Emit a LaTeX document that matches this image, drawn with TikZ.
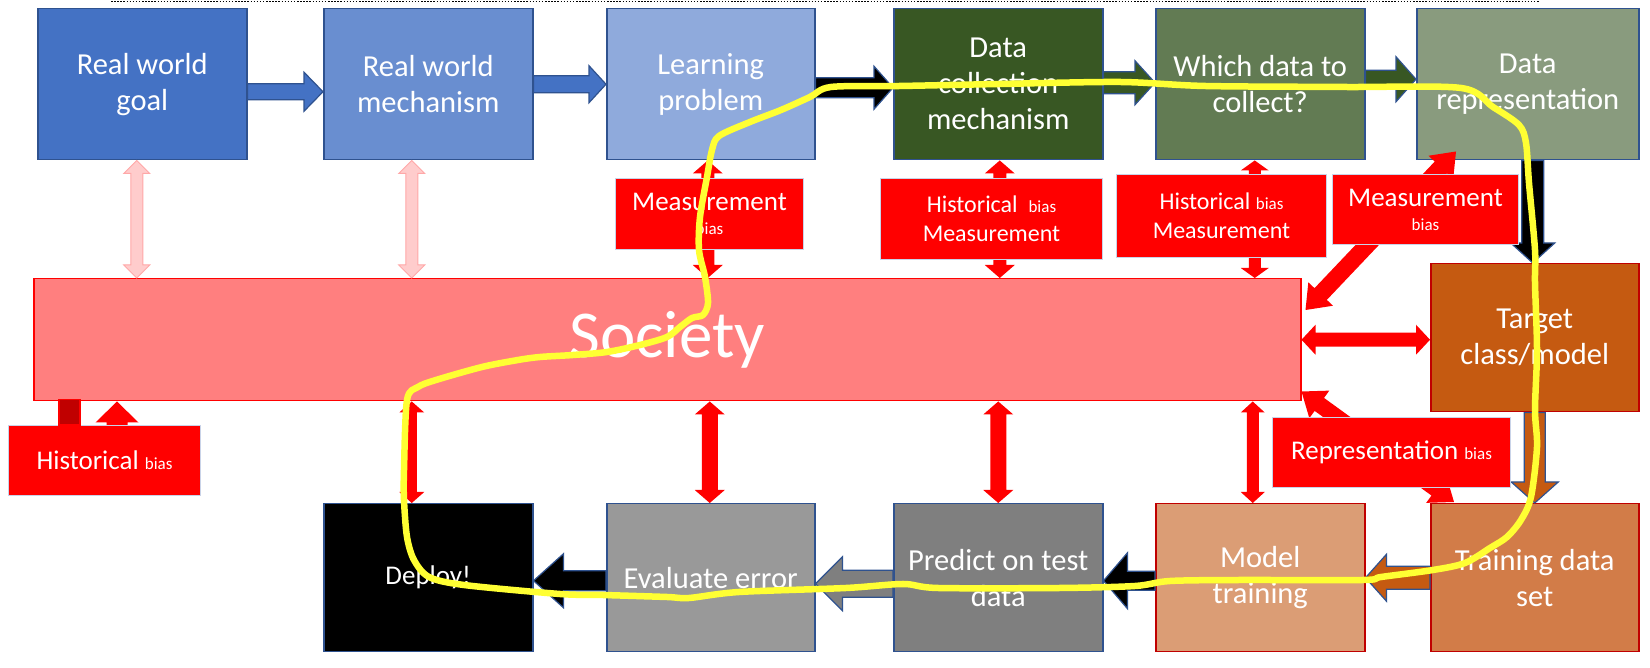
\documentclass[tikz,border=0pt]{standalone}
\usepackage{fontspec}
\setmainfont{Carlito}
\usetikzlibrary{calc}
\definecolor{bblue}{HTML}{2F528F}
\definecolor{cA}{HTML}{4472C4}
\definecolor{cB}{HTML}{698ED0}
\definecolor{cC}{HTML}{8FAADC}
\definecolor{gA}{HTML}{385723}
\definecolor{gB}{HTML}{627B53}
\definecolor{gC}{HTML}{899B7E}
\definecolor{oA}{HTML}{C55A11}
\definecolor{oB}{HTML}{D27C48}
\definecolor{oC}{HTML}{DB9D75}
\definecolor{grA}{HTML}{7F7F7F}
\definecolor{grB}{HTML}{999999}
\definecolor{dred}{HTML}{C00000}
\definecolor{socfill}{HTML}{FF7F7F}
\definecolor{pinkf}{HTML}{FFCCCC}
\definecolor{pinkd}{HTML}{FFA8A8}
\definecolor{biasline}{HTML}{C9D3E8}
\definecolor{pen}{HTML}{FFFF33}
\newcommand\sbias{\fontsize{17}{20}\selectfont bias}
\tikzset{
  bsw/.store in=\bsw, bhw/.store in=\bhw, bhl/.store in=\bhl,
  sarrow/.style={to path={let \p1=(\tikztostart),\p2=(\tikztotarget),
    \n1={atan2(\y2-\y1,\x2-\x1)},\n2={veclen(\x2-\x1,\y2-\y1)-\bhl},
    \n3={\n1+90},\n4={\n1-90} in
    ($(\p1)+(\n3:\bsw)$) -- ($(\p1)+(\n1:\n2)+(\n3:\bsw)$) -- ($(\p1)+(\n1:\n2)+(\n3:\bhw)$)
    -- (\p2) -- ($(\p1)+(\n1:\n2)+(\n4:\bhw)$) -- ($(\p1)+(\n1:\n2)+(\n4:\bsw)$)
    -- ($(\p1)+(\n4:\bsw)$) -- cycle}},
  darrow/.style={to path={let \p1=(\tikztostart),\p2=(\tikztotarget),
    \n1={atan2(\y2-\y1,\x2-\x1)},\n2={veclen(\x2-\x1,\y2-\y1)-\bhl},
    \n3={\n1+90},\n4={\n1-90} in
    (\p1) -- ($(\p1)+(\n1:\bhl)+(\n3:\bhw)$) -- ($(\p1)+(\n1:\bhl)+(\n3:\bsw)$)
    -- ($(\p1)+(\n1:\n2)+(\n3:\bsw)$) -- ($(\p1)+(\n1:\n2)+(\n3:\bhw)$) -- (\p2)
    -- ($(\p1)+(\n1:\n2)+(\n4:\bhw)$) -- ($(\p1)+(\n1:\n2)+(\n4:\bsw)$)
    -- ($(\p1)+(\n1:\bhl)+(\n4:\bsw)$) -- ($(\p1)+(\n1:\bhl)+(\n4:\bhw)$) -- cycle}},
  flow/.style={draw=bblue, line width=1.2pt, line join=miter, sarrow},
  rdbl/.style={fill=red, draw=none, darrow, bsw=6.5pt, bhw=15pt, bhl=13pt},
  pdbl/.style={fill=pinkf, draw=pinkd, line width=1pt, darrow, bsw=6pt, bhw=13pt, bhl=13pt},
  tbox/.style={draw=bblue, line width=1.5pt, text=white, align=center,
    font=\fontsize{30.5}{36}\selectfont, anchor=north west, inner sep=2pt},
  obox/.style={tbox, draw=dred},
  biasbox/.style={fill=red, draw=biasline, line width=1pt, text=white, align=center,
    anchor=north west, inner sep=2pt, font=\fontsize{27}{24}\selectfont},
}
\begin{document}
\begin{tikzpicture}[x=1pt,y=1pt]
\useasboundingbox (0,0) rectangle (1650,668);
\fill[white] (0,0) rectangle (1650,668);
\draw[line width=1.6pt, dash pattern=on 1.5pt off 1.6pt] (111,666.5) -- (1540,666.5);

% top row
\node[tbox, fill=cA, minimum width=209pt, minimum height=151pt] (rwg) at (37,660) {Real world\\goal};
\node[tbox, fill=cB, minimum width=209pt, minimum height=151pt] (rwm) at (323,660) {Real world\\mechanism};
\node[tbox, fill=cC, minimum width=208pt, minimum height=151pt] (lp) at (606,660) {Learning\\problem};
\node[tbox, fill=gA, minimum width=209pt, minimum height=151pt] (dcm) at (893,660) {Data\\collection\\mechanism};
\node[tbox, fill=gB, minimum width=209pt, minimum height=151pt] (wdc) at (1155,660) {Which data to\\collect?};
\node[tbox, fill=gC, minimum width=222pt, minimum height=151pt] (dr) at (1416,660) {Data\\representation};

% society
\node[draw=red, fill=socfill, line width=1.5pt, anchor=north west, minimum width=1267pt,
  minimum height=122pt, text=white, font=\fontsize{67}{70}\selectfont] (soc) at (33,390) {Society};

\node[obox, fill=oA, minimum width=208pt, minimum height=148pt] (target) at (1430,405) {Target\\class/model};

% bottom row
\node[tbox, fill=black, minimum width=209pt, minimum height=148pt, font=\fontsize{27}{32}\selectfont] (deploy) at (323,165) {Deploy!};
\node[tbox, fill=grB, minimum width=208pt, minimum height=148pt] (ee) at (606,165) {Evaluate error};
\node[tbox, fill=grA, minimum width=209pt, minimum height=148pt] (ptd) at (893,165) {Predict on test\\data};
\node[obox, fill=oC, minimum width=209pt, minimum height=148pt] (mt) at (1155,165) {Model\\training};
\node[obox, fill=oB, minimum width=208pt, minimum height=148pt] (tds) at (1430,165) {Training data\\set};

% flow arrows
\draw[flow, fill=cA, bsw=8pt, bhw=19.5pt, bhl=19pt] ($(rwg.east)+(0,-7.5)$) to ($(rwm.west)+(0,-7.5)$);
\draw[flow, fill=cA, bsw=8.5pt, bhw=18.5pt, bhl=17pt] (rwm.east) to (lp.west);
\draw[flow, fill=black, bsw=10pt, bhw=21.5pt, bhl=19pt] ($(lp.east)+(0,-3.5)$) to ($(dcm.west)+(0,-3.5)$);
\draw[flow, fill=gA, bsw=11pt, bhw=22pt, bhl=20pt] ($(dcm.east)+(0,1.5)$) to ($(wdc.west)+(0,1.5)$);
\draw[flow, fill=gA, bsw=9pt, bhw=22.5pt, bhl=20pt] ($(wdc.east)+(0,5)$) to ($(dr.west)+(0,5)$);
\draw[flow, fill=black, bsw=11pt, bhw=22pt, bhl=20pt] ($(dr.south)+(5,0)$) to ($(target.north)+(-2,0)$);
\draw[flow, fill=oA, bsw=10.5pt, bhw=23.5pt, bhl=21pt] (target.south) to (tds.north);
\draw[flow, fill=oA, bsw=11.5pt, bhw=23.5pt, bhl=21pt] (tds.west) to (mt.east);
\draw[flow, fill=black, bsw=9.5pt, bhw=28pt, bhl=24pt] ($(mt.west)+(0,-3)$) to ($(ptd.east)+(0,-3)$);
\draw[flow, fill=grA, bsw=13.5pt, bhw=27pt, bhl=27pt] ($(ptd.west)+(0,-6)$) to ($(ee.east)+(0,-6)$);
\draw[flow, fill=black, bsw=10pt, bhw=27pt, bhl=30pt] ($(ee.west)+(0,-3)$) to ($(deploy.east)+(0,-3)$);

% society links
\coordinate (pA) at ($(rwg.south)+(-5.5,0)$);
\coordinate (pB) at ($(rwm.south)+(-16.5,0)$);
\coordinate (tA) at ($(lp.south)+(-3,0)$);
\coordinate (tB) at ($(dcm.south)+(1.5,0)$);
\coordinate (tC) at ($(wdc.south)+(-5.5,0)$);
\coordinate (bA) at ($(deploy.north)+(-16.5,0)$);
\coordinate (bB) at ($(ee.north)+(-1,0)$);
\coordinate (bC) at (ptd.north);
\coordinate (bD) at ($(mt.north)+(-7.5,0)$);
\draw[pdbl] (pA) to (pA |- soc.north);
\draw[pdbl] (pB) to (pB |- soc.north);
\draw[rdbl] (tA) to (tA |- soc.north);
\draw[rdbl] (tB) to (tB |- soc.north);
\draw[rdbl, bsw=6pt, bhw=14pt, bhl=10pt] (tC) to (tC |- soc.north);
\draw[rdbl, bsw=5pt, bhw=12.5pt, bhl=11pt] (bA |- soc.south) to (bA);
\draw[rdbl, bsw=8pt] (bB |- soc.south) to (bB);
\draw[rdbl, bsw=8pt] (bC |- soc.south) to (bC);
\draw[rdbl, bsw=6pt, bhw=12pt, bhl=11pt] (bD |- soc.south) to (bD);
\draw[rdbl, bsw=7pt, bhw=15pt, bhl=14pt] (soc.east) to (soc.east -| target.west);
\draw[rdbl, bsw=8.5pt, bhw=17pt, bhl=22pt] ($(soc.north east)+(4,-32)$) to ($(dr.south west)+(40,9)$);
\draw[rdbl, bsw=8pt, bhw=17pt, bhl=22pt] ($(soc.south east)+(0,10)$) to ($(tds.north west)+(24,1)$);

% bias boxes
\node[biasbox, minimum width=188pt, minimum height=71pt] (mbA) at (615,490) {Measurement\\{\sbias}};
\node[biasbox, minimum width=222pt, minimum height=81pt, font=\fontsize{24}{29}\selectfont] (hmA) at (880,490) {Historical\ \ {\sbias}\\Measurement};
\node[biasbox, minimum width=210pt, minimum height=83pt, font=\fontsize{24}{29}\selectfont] (hmB) at (1116,494) {Historical {\sbias}\\Measurement};
\node[biasbox, minimum width=186pt, minimum height=70pt] (mbB) at (1332,494) {Measurement\\{\sbias}};
\node[biasbox, minimum width=238pt, minimum height=70pt] (rb) at (1272,251) {Representation {\sbias}};
\node[biasbox, minimum width=192pt, minimum height=70pt] (hb) at (8,243) {Historical {\sbias}};

% historical bias links
\draw[fill=dred, draw=red, line width=1.2pt] ($(soc.south west)+(26,2)$) rectangle ($(hb.north west)+(72,0)$);
\coordinate (hup) at ($(hb.north west)+(109,0)$);
\draw[fill=red, draw=none, sarrow, bsw=10.5pt, bhw=21.5pt, bhl=21pt] (hup) to (hup |- soc.south);

% hand-drawn loop
\begin{scope}[shift={(0,668)}, yscale=-1]
\draw[pen, line width=6.5pt, line cap=round, line join=round]
  plot[smooth cycle, tension=0.5] coordinates {
  (404,470) (407,400) (418,387) (436,380) (482,367) (518,360) (540,357) (573,355)
  (607,352) (640,345) (667,337) (680,327) (692,318) (703,315) (708,303) (705,277)
  (699,250) (700,217) (707,177) (712,150) (719,136) (750,122) (781,110) (810,97)
  (831,87) (900,86) (1000,84) (1120,82) (1205,86) (1345,87) (1461,88) (1493,107)
  (1519,125) (1526,143) (1529,183) (1535,250) (1535,283) (1537,350) (1535,410)
  (1537,447) (1531,497) (1521,520) (1507,537) (1490,548) (1465,563) (1433,570)
  (1381,577) (1363,580) (1240,580) (1170,581) (1135,586) (1060,588) (938,588)
  (903,584) (846,588) (739,592) (689,598) (667,597) (603,595) (560,594)
  (464,585) (429,577) (414,560) (407,537) (404,500)};
\end{scope}
\end{tikzpicture}
\end{document}
